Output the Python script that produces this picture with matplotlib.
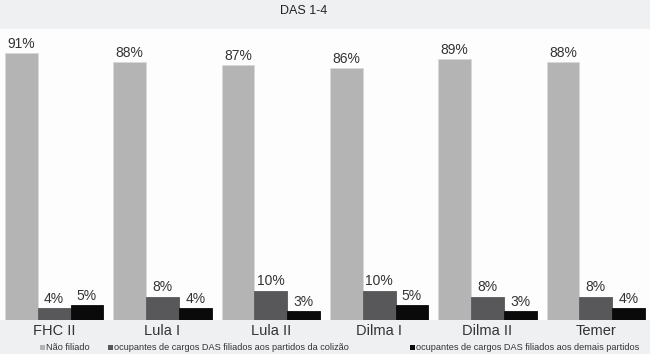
import numpy as np
import matplotlib.pyplot as plt
from matplotlib.patches import Rectangle

plt.rcParams["font.family"] = ["Liberation Sans Narrow", "Liberation Sans", "DejaVu Sans"]

# ---------------------------------------------------------
# Data
# ---------------------------------------------------------
governos = ["FHC II", "Lula I", "Lula II", "Dilma I", "Dilma II", "Temer"]
nao_filiado = [91, 88, 87, 86, 89, 88]
coalizao = [4, 8, 10, 10, 8, 8]
demais = [5, 4, 3, 5, 3, 4]

series_names = [
    "Não filiado",
    "ocupantes de cargos DAS filiados aos partidos da colizão",
    "ocupantes de cargos DAS filiados aos demais partidos",
]
COLORS = ["#b3b4b3", "#58585a", "#0a0a0a"]
TEXT_COLOR = "#333333"
BAND_COLOR = "#eff0f2"

# ---------------------------------------------------------
# Figure
# ---------------------------------------------------------
fig = plt.figure(figsize=(6.5, 3.54), dpi=100)
fig.patch.set_facecolor(BAND_COLOR)

ax = fig.add_axes([0, 1 - 320 / 354, 1, (320 - 29) / 354])
ax.set_facecolor("#fdfdfd")

x = np.arange(len(governos)) + 0.5
w = 0.303
series = [nao_filiado, coalizao, demais]
for k, (vals, col) in enumerate(zip(series, COLORS)):
    pos = x + (k - 1) * w
    ax.bar(pos, vals, width=w, color=col, edgecolor="#d8d8d8" if k == 0 else col,
           linewidth=0.6)
    for xp, v in zip(pos, vals):
        ax.text(xp, v + 0.8, f"{v}%", ha="center", va="bottom",
                fontsize=10, color=TEXT_COLOR)

ax.set_xlim(0, 6)
ax.set_ylim(0, 99.3)
for s in ax.spines.values():
    s.set_visible(False)
ax.set_xticks(x)
ax.set_xticklabels(governos, fontsize=10.5, color=TEXT_COLOR)
ax.tick_params(axis="x", length=0, pad=3)
ax.set_yticks([])

fig.text(304 / 650, 1 - 11 / 354, "DAS 1-4", ha="center", va="center",
         fontsize=9, color="#222222")

# legend (manual, uneven spacing as in the original)
leg_x = [40, 108, 410]
for lx, name, col in zip(leg_x, series_names, COLORS):
    fig.patches.append(Rectangle((lx / 650, 1 - 350 / 354), 5 / 650, 5 / 354,
                                 transform=fig.transFigure, facecolor=col,
                                 edgecolor="none"))
    fig.text((lx + 6) / 650, 1 - 347 / 354, name, ha="left", va="center",
             fontsize=6.6, color=TEXT_COLOR)

fig.savefig("out.png", dpi=100, facecolor=fig.get_facecolor())
